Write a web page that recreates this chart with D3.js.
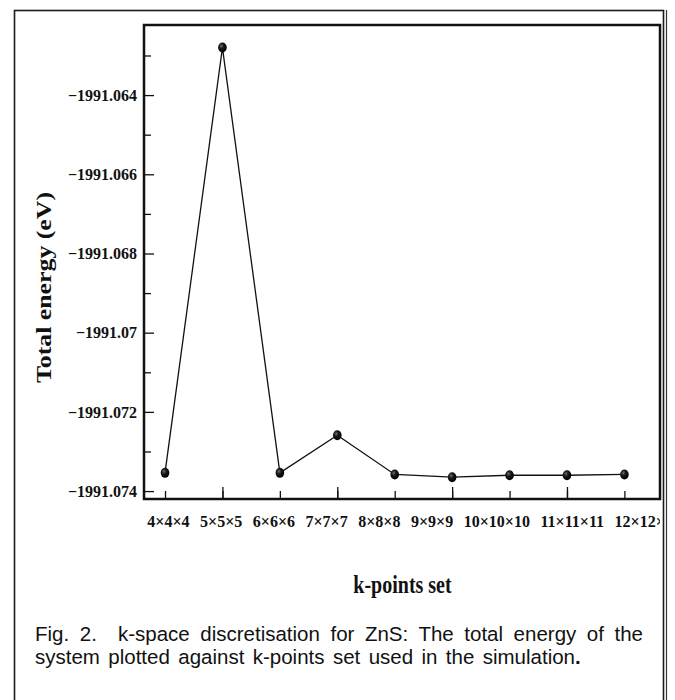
<!DOCTYPE html>
<html>
<head>
<meta charset="utf-8">
<script src="https://cdn.jsdelivr.net/npm/d3@7"></script>
<style>
  body { margin: 0; background: #fff; }
  svg { display: block; }
</style>
</head>
<body>
<div id="chart"></div>
<script>
// k-points sets and total energy (eV)
const kpoints = ["4×4×4", "5×5×5", "6×6×6", "7×7×7", "8×8×8", "9×9×9", "10×10×10", "11×11×11", "12×12×12"];
const energy = [-1991.07354, -1991.06280, -1991.07354, -1991.07259, -1991.07358,
                -1991.07365, -1991.07360, -1991.07360, -1991.07358];

// y axis ticks
const yTicks = [-1991.064, -1991.066, -1991.068, -1991.070, -1991.072, -1991.074];
const yTickLabels = ["−1991.064", "−1991.066", "−1991.068", "−1991.07", "−1991.072", "−1991.074"];
const yMinorTicks = [-1991.063, -1991.065, -1991.067, -1991.069, -1991.071, -1991.073];

const captionLines = [
  "Fig. 2.  k-space discretisation for ZnS: The total energy of the",
  "system plotted against k-points set used in the simulation"
];

const W = 675, H = 700;
const plot = {left: 144, top: 25, right: 660, bottom: 499};
const serif = "'Liberation Serif', 'Times New Roman', serif";
const sans = "'Liberation Sans', Arial, sans-serif";

const svg = d3.select("#chart").append("svg")
    .attr("width", W)
    .attr("height", H);

svg.append("rect").attr("width", W).attr("height", H).attr("fill", "#fff");

const defs = svg.append("defs");

// outer frame of the figure (runs off the bottom)
svg.append("rect")
    .attr("x", 14.5).attr("y", 10.5)
    .attr("width", 649).attr("height", 720)
    .attr("fill", "none").attr("stroke", "#1a1a1a").attr("stroke-width", 1.6);
svg.append("line")
    .attr("x1", 666.5).attr("x2", 666.5).attr("y1", 10).attr("y2", H)
    .attr("stroke", "#333").attr("stroke-width", 1.2);

// scales
const x = d3.scaleLinear()
    .domain([-0.366, 8.62])
    .range([plot.left, plot.right]);
const y = d3.scaleLinear()
    .domain([-1991.0742, -1991.06223])
    .range([plot.bottom, plot.top]);

const idx = kpoints.map((d, i) => i);

// y axis, ticks pointing into the plot
const yAxis = svg.append("g")
    .attr("transform", "translate(" + plot.left + ",0)")
    .call(d3.axisLeft(y)
      .tickValues(yTicks)
      .tickSizeInner(-10)
      .tickSizeOuter(0)
      .tickPadding(7)
      .tickFormat((d, i) => yTickLabels[i]));
yAxis.select(".domain").remove();
yAxis.selectAll("line").attr("stroke", "#111").attr("stroke-width", 1.3);
yAxis.selectAll("text")
    .style("font-family", serif)
    .style("font-size", "16px")
    .style("font-weight", "bold")
    .attr("fill", "#111");

const yMinor = svg.append("g")
    .attr("transform", "translate(" + plot.left + ",0)")
    .call(d3.axisLeft(y).tickValues(yMinorTicks).tickSizeInner(-7).tickSizeOuter(0).tickFormat(""));
yMinor.select(".domain").remove();
yMinor.selectAll("line").attr("stroke", "#111").attr("stroke-width", 1.3);

// x axis ticks: short on every set, longer on every other one
const xAxis = svg.append("g")
    .attr("transform", "translate(0," + plot.bottom + ")")
    .call(d3.axisBottom(x).tickValues(idx).tickSizeInner(-8).tickSizeOuter(0).tickFormat(""));
xAxis.select(".domain").remove();
xAxis.selectAll("line").attr("stroke", "#111").attr("stroke-width", 1.3);

const xLong = svg.append("g")
    .attr("transform", "translate(0," + plot.bottom + ")")
    .call(d3.axisBottom(x).tickValues(idx.filter(i => i % 2 === 1)).tickSizeInner(-12).tickSizeOuter(0).tickFormat(""));
xLong.select(".domain").remove();
xLong.selectAll("line").attr("stroke", "#111").attr("stroke-width", 1.3);

// the set names sit in one typed row under the axis, cut at the plot edge
defs.append("clipPath").attr("id", "labelclip")
  .append("rect")
    .attr("x", 0).attr("y", plot.bottom)
    .attr("width", plot.right).attr("height", 60);

const labelRow = svg.append("g").attr("clip-path", "url(#labelclip)");
let cursor = 147.3;
const gap = 10.5;
kpoints.forEach(function(k) {
  const t = labelRow.append("text")
      .attr("x", cursor)
      .attr("y", 527)
      .style("font-family", serif)
      .style("font-size", "16px")
      .style("font-weight", "bold")
      .attr("fill", "#111")
      .text(k);
  cursor += t.node().getComputedTextLength() + gap;
});

// plot box
svg.append("rect")
    .attr("x", plot.left).attr("y", plot.top)
    .attr("width", plot.right - plot.left).attr("height", plot.bottom - plot.top)
    .attr("fill", "none").attr("stroke", "#111").attr("stroke-width", 2.5);

// data line
const line = d3.line()
    .x((d, i) => x(i))
    .y(d => y(d));

svg.append("path")
    .datum(energy)
    .attr("d", line)
    .attr("fill", "none")
    .attr("stroke", "#111")
    .attr("stroke-width", 1.3);

// shiny ball markers
const grad = defs.append("radialGradient")
    .attr("id", "ball")
    .attr("cx", "38%").attr("cy", "35%").attr("r", "65%");
grad.append("stop").attr("offset", "0%").attr("stop-color", "#6e6e6e");
grad.append("stop").attr("offset", "40%").attr("stop-color", "#1a1a1a");
grad.append("stop").attr("offset", "100%").attr("stop-color", "#000");

svg.append("g")
    .selectAll("ellipse")
    .data(energy)
    .enter()
    .append("ellipse")
      .attr("cx", (d, i) => x(i))
      .attr("cy", d => y(d))
      .attr("rx", 4.3)
      .attr("ry", 5)
      .attr("fill", "url(#ball)");

// axis titles
svg.append("text")
    .attr("transform", "translate(51," + ((192 + 383) / 2) + ") rotate(-90)")
    .attr("text-anchor", "middle")
    .attr("textLength", 191)
    .attr("lengthAdjust", "spacingAndGlyphs")
    .style("font-family", serif)
    .style("font-size", "20px")
    .style("font-weight", "bold")
    .attr("fill", "#111")
    .text("Total energy (eV)");

svg.append("text")
    .attr("transform", "translate(402.5,593) scale(1,1.3)")
    .attr("text-anchor", "middle")
    .style("font-family", serif)
    .style("font-size", "20px")
    .style("font-weight", "bold")
    .attr("fill", "#111")
    .text("k-points set");

// caption: first line justified to the full width
const capSize = 20.5;
const cap1 = svg.append("text")
    .attr("x", 35).attr("y", 640.5)
    .style("font-family", sans)
    .style("font-size", capSize + "px")
    .attr("fill", "#111")
    .style("white-space", "pre")
    .text(captionLines[0]);
const natural1 = cap1.node().getComputedTextLength();
cap1.style("word-spacing", ((608 - natural1) / (captionLines[0].split(" ").length - 1)) + "px");

const cap2 = svg.append("text")
    .attr("x", 35).attr("y", 663.5)
    .style("font-family", sans)
    .style("font-size", capSize + "px")
    .attr("fill", "#111");
const body2 = cap2.append("tspan").text(captionLines[1]);
const natural2 = body2.node().getComputedTextLength();
cap2.style("word-spacing", Math.max(0, (540 - natural2) / (captionLines[1].split(" ").length - 1)) + "px");
cap2.append("tspan").style("font-weight", "bold").text(".");
</script>
</body>
</html>
